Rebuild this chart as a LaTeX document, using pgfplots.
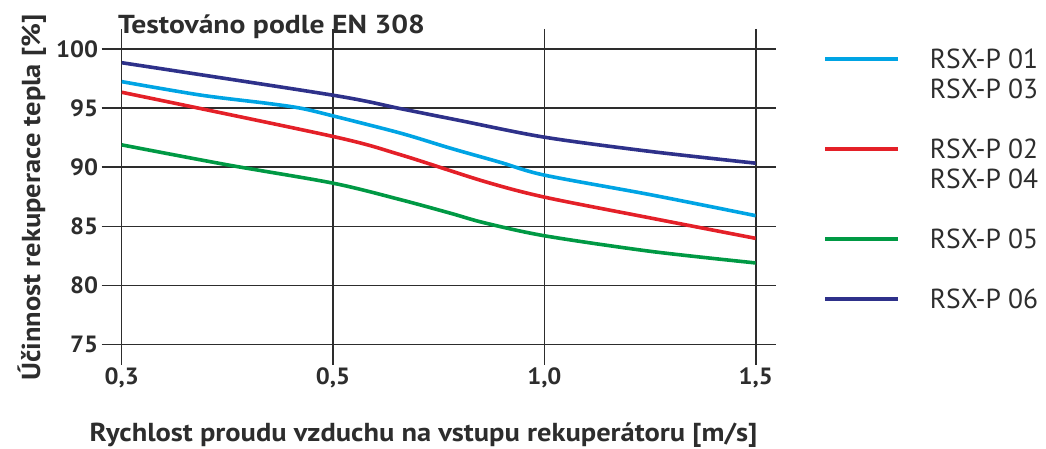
\documentclass[border=0pt]{standalone}
\usepackage{fontspec}
\setmainfont{PT Sans}
\newfontfamily\titlefont[FakeStretch=1.14]{PT Sans}
\newfontfamily\labfont[FakeStretch=1.095]{PT Sans}
\newfontfamily\tickfont[FakeStretch=1.05]{PT Sans}
\usepackage{pgfplots}
\pgfplotsset{compat=1.18}
\definecolor{cblue}{RGB}{0,164,228}
\definecolor{cred}{RGB}{228,32,40}
\definecolor{cgreen}{RGB}{0,153,68}
\definecolor{cpurple}{RGB}{46,49,138}
\definecolor{gridc}{RGB}{45,45,45}
\begin{document}
\begin{tikzpicture}
\path[use as bounding box] (-121.7pt,-103.5pt) rectangle (924.3pt,344.5pt);
\begin{axis}[
  at={(0pt,0pt)}, anchor=south west,
  scale only axis, width=634pt, height=295.5pt,
  xmin=0, xmax=3, ymin=75, ymax=100,
  xtick={0,1,2,3}, xticklabels={{0,3},{0,5},{1,0},{1,5}},
  ytick={75,80,...,100},
  grid=major,
  grid style={line width=1.6pt, color=gridc},
  axis line style={line width=1.6pt, color=gridc},
  tick style={line width=1.6pt, color=gridc},
  tick align=outside, major tick length=20pt,
  tick label style={font=\fontsize{23.5}{26}\tickfont\bfseries, text=gridc},
  /pgf/number format/assume math mode=true,
  title={Testováno podle EN 308},
  title style={at={(-0.0058,1.032)}, anchor=base west, yshift=0pt, inner sep=0pt, font=\fontsize{26}{30}\titlefont\bfseries, text=gridc},
  xlabel={Rychlost proudu vzduchu na vstupu rekuperátoru [m/s]},
  xlabel style={at={(0.476,-0.329)}, anchor=base, inner sep=0pt, font=\fontsize{26}{30}\labfont\bfseries, text=gridc},
  ylabel={Účinnost rekuperace tepla [\%]},
  ylabel style={at={(-0.1285,0.4975)}, anchor=base, inner sep=0pt, font=\fontsize{26}{30}\labfont\bfseries, text=gridc},
  every axis plot/.append style={line width=3.6pt},
  legend image code/.code={\draw[#1] (0pt,2pt) -- (72.3pt,2pt);},
  legend style={at={(1.1068,1.0024)}, anchor=north west, draw=none, fill=none,
    inner sep=0pt, outer sep=0pt, row sep=4pt, column sep=30.5pt,
    font=\fontsize{27.5}{30}\selectfont, text=gridc,
    nodes={inner sep=0pt, text height=20pt, text depth=6pt},
    cells={anchor=west}},
]
\addplot[cblue, smooth, tension=0.5] coordinates {(0,97.24) (0.374,96.1) (0.69,95.4) (0.847,94.99) (1,94.34) (1.32,92.88) (1.557,91.6) (1.794,90.4) (2,89.33) (2.503,87.67) (3,85.9)};
\addlegendentry{RSX-P 01}
\addlegendimage{empty legend}
\addlegendentry{RSX-P 03}
\addlegendimage{empty legend}
\addlegendentry{}
\addplot[cred, smooth, tension=0.5] coordinates {(0,96.34) (1,92.6) (1.32,91.05) (1.715,88.8) (2,87.47) (2.503,85.7) (3,83.98)};
\addlegendentry{RSX-P 02}
\addlegendimage{empty legend}
\addlegendentry{RSX-P 04}
\addlegendimage{empty legend}
\addlegendentry{}
\addplot[cgreen, smooth, tension=0.5] coordinates {(0,91.89) (0.5,90.2) (1,88.65) (1.32,87.25) (1.557,86.1) (1.715,85.3) (2,84.2) (2.503,82.88) (3,81.9)};
\addlegendentry{RSX-P 05}
\addlegendimage{empty legend}
\addlegendentry{}
\addplot[cpurple, smooth, tension=0.5] coordinates {(0,98.84) (1,96.09) (1.32,94.95) (1.6,93.95) (2,92.54) (2.503,91.33) (3,90.34)};
\addlegendentry{RSX-P 06}
\end{axis}
\end{tikzpicture}
\end{document}
